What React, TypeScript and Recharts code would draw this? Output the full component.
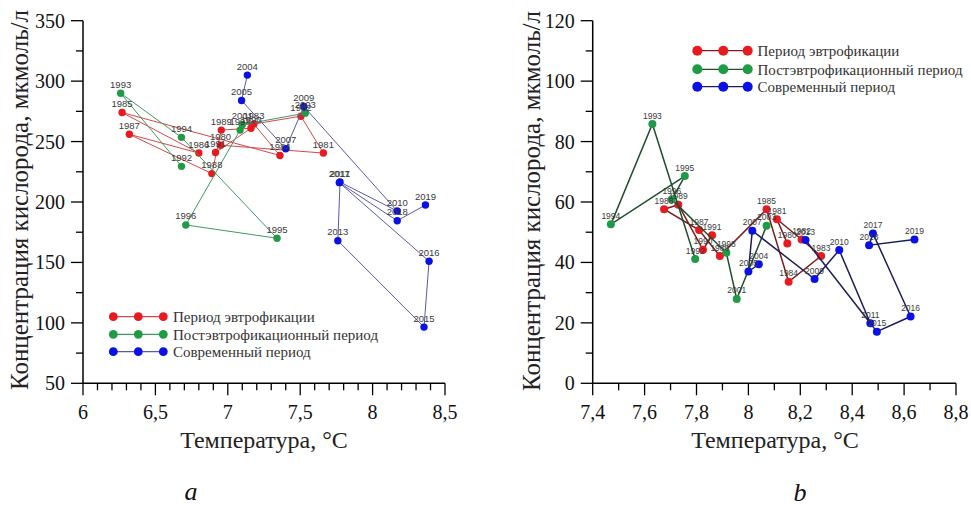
import React from "react";
import { ScatterChart, Scatter, XAxis, YAxis, LabelList } from "recharts";

type Pt = { x: number; y: number; year: number };

const redYears = [1980, 1981, 1982, 1983, 1984, 1985, 1986, 1987, 1988, 1989, 1990, 1991];
const greenYears = [1992, 1993, 1994, 1995, 1996, 1998, 2001, 2003];
const blueYears = [2004, 2005, 2007, 2009, 2010, 2011, 2013, 2015, 2016, 2017, 2018, 2019];

// panel a
const redTempA = [6.95, 7.66, 7.505, 7.18, 7.36, 6.27, 6.8, 6.32, 6.89, 6.955, 7.16, 6.915];
const redO2A = [247, 240.5, 271, 264.5, 238.5, 274, 240.5, 256, 223.5, 259.5, 261, 241];
const greenTempA = [6.68, 6.26, 6.68, 7.34, 6.71, 7.085, 7.1, 7.535];
const greenO2A = [229.5, 290, 253.5, 170, 181, 259.5, 264, 273.5];
const blueTempA = [7.135, 7.095, 7.4, 7.525, 8.17, 7.775, 7.76, 8.355, 8.39, 7.77, 8.17, 8.365];
const blueO2A = [305, 284, 244, 279, 192.5, 216.5, 168, 96.5, 151, 216, 184.5, 197.5];

// panel b
const redTempB = [8.15, 8.11, 8.205, 8.28, 8.155, 8.07, 7.89, 7.81, 7.675, 7.73, 7.825, 7.86];
const redO2B = [46.3, 54.3, 47.6, 42.1, 33.6, 57.6, 42.1, 50.7, 57.6, 59.1, 44.2, 49];
const greenTempB = [7.795, 7.63, 7.47, 7.755, 7.705, 7.915, 7.955, 8.07];
const greenO2B = [41.1, 85.8, 52.6, 68.6, 60.9, 43.2, 27.9, 52.1];
const blueTempB = [8.04, 8.0, 8.015, 8.255, 8.35, 8.47, 8.22, 8.495, 8.625, 8.48, 8.465, 8.64];
const blueO2B = [39.4, 37, 50.5, 34.5, 44.1, 19.9, 47.4, 17.1, 22.1, 49.6, 45.7, 47.6];

const xTicksA = [6, 6.5, 7, 7.5, 8, 8.5];
const yTicksA = [50, 100, 150, 200, 250, 300, 350];
const xTicksB = [7.4, 7.6, 7.8, 8, 8.2, 8.4, 8.6, 8.8];
const yTicksB = [0, 20, 40, 60, 80, 100, 120];

const legendNames = ["Период эвтрофикации", "Постэвтрофикационный период", "Современный период"];

const DOTS = ["#e8191f", "#1f9a45", "#0a10e6"];
const LINES_A = ["#d24a4a", "#3f9a5e", "#5a5aa8"];
const LINES_B = ["#7a1c1c", "#1e4e2c", "#1c1c58"];

const SERIF = "'Liberation Serif', 'Times New Roman', serif";
const SANS = "'Liberation Sans', Arial, sans-serif";
const PLOT_TOP = 20.7;
const PLOT_BOTTOM = 383.3;

const toPts = (years: number[], t: number[], o: number[]): Pt[] =>
  years.map((year, i) => ({ x: t[i], y: o[i], year }));

const steps = (lo: number, hi: number, step: number) => {
  const out: number[] = [];
  const n = Math.round((hi - lo) / step);
  for (let i = 0; i <= n; i++) out.push(+(lo + i * step).toFixed(4));
  return out;
};

const fmt = (v: number) => String(v).replace(".", ",");
const isMajor = (v: number, majors: number[]) => majors.some((m) => Math.abs(m - v) < 1e-6);

function Panel(props: {
  left: number;
  width: number;
  plotLeft: number;
  plotRight: number;
  xDomain: [number, number];
  yDomain: [number, number];
  xMajor: number[];
  yMajor: number[];
  xStep: number;
  yStep: number;
  series: { data: Pt[]; dot: string; line: string }[];
  r: number;
  lineWidth: number;
  labelSize: number;
}) {
  const { left, width, plotLeft, plotRight, xDomain, yDomain, xMajor, yMajor, series, r } = props;
  const xAll = steps(xDomain[0], xDomain[1], props.xStep);
  const yAll = steps(yDomain[0], yDomain[1], props.yStep);

  const xTick = (p: any) => {
    const v = p.payload.value;
    const major = isMajor(v, xMajor);
    return (
      <g>
        <line x1={p.x} x2={p.x} y1={p.y} y2={p.y + (major ? 12 : 7)} stroke="#000" strokeWidth={1.3} />
        {major && (
          <text x={p.x} y={p.y + 36} textAnchor="middle" fontFamily={SERIF} fontSize={20} fill="#111">
            {fmt(v)}
          </text>
        )}
      </g>
    );
  };

  const yTick = (p: any) => {
    const v = p.payload.value;
    const major = isMajor(v, yMajor);
    return (
      <g>
        <line x1={p.x - (major ? 12 : 7)} x2={p.x} y1={p.y} y2={p.y} stroke="#000" strokeWidth={1.3} />
        {major && (
          <text x={p.x - 18} y={p.y} dy="0.35em" textAnchor="end" fontFamily={SERIF} fontSize={20} fill="#111">
            {fmt(v)}
          </text>
        )}
      </g>
    );
  };

  return (
    <div style={{ position: "absolute", left, top: 0 }}>
      <ScatterChart
        width={width}
        height={505}
        margin={{ top: PLOT_TOP, right: width - plotRight, bottom: 505 - PLOT_BOTTOM - 50, left: 0 }}
      >
        <XAxis
          type="number"
          dataKey="x"
          domain={xDomain}
          ticks={xAll}
          interval={0}
          tick={xTick}
          tickLine={false}
          tickSize={0}
          tickMargin={0}
          height={50}
          axisLine={{ stroke: "#000", strokeWidth: 1.5 }}
        />
        <YAxis
          type="number"
          dataKey="y"
          domain={yDomain}
          ticks={yAll}
          interval={0}
          tick={yTick}
          tickLine={false}
          tickSize={0}
          tickMargin={0}
          width={plotLeft}
          axisLine={{ stroke: "#000", strokeWidth: 1.5 }}
        />
        {series.map((s, i) => (
          <Scatter
            key={i}
            data={s.data}
            fill={s.dot}
            isAnimationActive={false}
            line={{ stroke: s.line, strokeWidth: props.lineWidth }}
            shape={(p: any) => <circle cx={p.cx} cy={p.cy} r={r} fill={s.dot} />}
          >
            <LabelList
              dataKey="year"
              position="top"
              offset={1}
              fontSize={props.labelSize}
              fontFamily={SANS}
              fill="#3a3a3a"
            />
          </Scatter>
        ))}
      </ScatterChart>
    </div>
  );
}

function Legend({ xs, ys, textX, r, lines }: { xs: number[]; ys: number[]; textX: number; r: number; lines: string[] }) {
  return (
    <g>
      {ys.map((y, i) => (
        <g key={i}>
          <line x1={xs[0]} x2={xs[2]} y1={y} y2={y} stroke={lines[i]} strokeWidth={1.2} />
          {xs.map((x) => (
            <circle key={x} cx={x} cy={y} r={r} fill={DOTS[i]} />
          ))}
          <text x={textX} y={y} dy="0.35em" fontFamily={SERIF} fontSize={15} fill="#333">
            {legendNames[i]}
          </text>
        </g>
      ))}
    </g>
  );
}

export default function App() {
  const seriesA = [
    { data: toPts(redYears, redTempA, redO2A), dot: DOTS[0], line: LINES_A[0] },
    { data: toPts(greenYears, greenTempA, greenO2A), dot: DOTS[1], line: LINES_A[1] },
    { data: toPts(blueYears, blueTempA, blueO2A), dot: DOTS[2], line: LINES_A[2] },
  ];
  const seriesB = [
    { data: toPts(redYears, redTempB, redO2B), dot: DOTS[0], line: LINES_B[0] },
    { data: toPts(greenYears, greenTempB, greenO2B), dot: DOTS[1], line: LINES_B[1] },
    { data: toPts(blueYears, blueTempB, blueO2B), dot: DOTS[2], line: LINES_B[2] },
  ];
  const yTitle = "Концентрация кислорода, мкмоль/л";
  const xTitle = "Температура, °C";

  return (
    <div style={{ position: "absolute", left: 0, top: 0, width: 971, height: 505, background: "#fff", overflow: "hidden" }}>
      <Panel
        left={0}
        width={480}
        plotLeft={83}
        plotRight={445}
        xDomain={[6, 8.5]}
        yDomain={[50, 350]}
        xMajor={xTicksA}
        yMajor={yTicksA}
        xStep={0.1}
        yStep={25}
        series={seriesA}
        r={3.7}
        lineWidth={1}
        labelSize={9.5}
      />
      <Panel
        left={490}
        width={481}
        plotLeft={102.7}
        plotRight={466}
        xDomain={[7.4, 8.8]}
        yDomain={[0, 120]}
        xMajor={xTicksB}
        yMajor={yTicksB}
        xStep={0.1}
        yStep={10}
        series={seriesB}
        r={4}
        lineWidth={1.5}
        labelSize={8.5}
      />
      <svg width={971} height={505} style={{ position: "absolute", left: 0, top: 0, pointerEvents: "none" }}>
        <text transform="translate(28,200) rotate(-90)" textAnchor="middle" fontFamily={SERIF} fontSize={25} fill="#222">
          {yTitle}
        </text>
        <text transform="translate(540,201) rotate(-90)" textAnchor="middle" fontFamily={SERIF} fontSize={25} fill="#222">
          {yTitle}
        </text>
        <text x={264} y={448} textAnchor="middle" fontFamily={SERIF} fontSize={24} fill="#222">
          {xTitle}
        </text>
        <text x={775} y={448} textAnchor="middle" fontFamily={SERIF} fontSize={24} fill="#222">
          {xTitle}
        </text>
        <text x={191} y={500} textAnchor="middle" fontFamily={SERIF} fontStyle="italic" fontSize={26} fill="#111">
          a
        </text>
        <text x={800} y={501} textAnchor="middle" fontFamily={SERIF} fontStyle="italic" fontSize={26} fill="#111">
          b
        </text>
        <Legend xs={[113.3, 138.3, 163.3]} ys={[316.7, 334.3, 351.7]} textX={173} r={4.4} lines={LINES_A} />
        <Legend xs={[697.3, 723.3, 747.7]} ys={[50.7, 69.3, 86.7]} textX={757.5} r={5} lines={LINES_B} />
      </svg>
    </div>
  );
}
